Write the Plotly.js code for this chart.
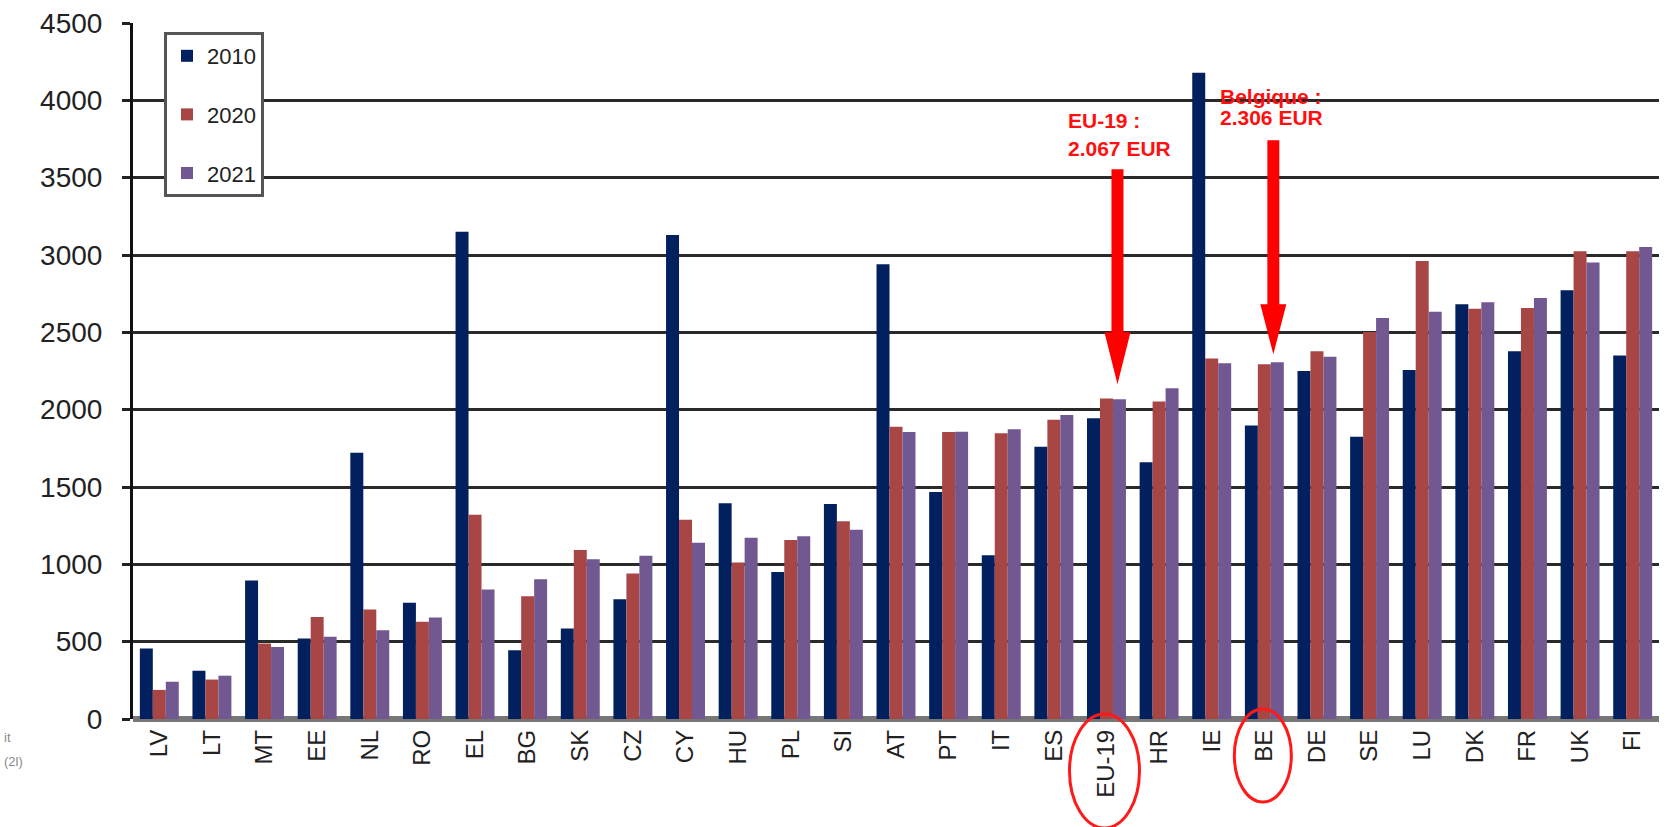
<!DOCTYPE html>
<html>
<head>
<meta charset="utf-8">
<script src="https://cdn.plot.ly/plotly-3.0.1.min.js"></script>
<style>
  html, body { margin: 0; padding: 0; background: #ffffff; }
  #chart { width: 1672px; height: 827px; }
</style>
</head>
<body>
<div id="chart"></div>
<script>
// ---- data ----
const categories = ['LV','LT','MT','EE','NL','RO','EL','BG','SK','CZ','CY','HU','PL','SI','AT','PT','IT','ES','EU-19','HR','IE','BE','DE','SE','LU','DK','FR','UK','FI'];
const values2010 = [456, 312, 895, 520, 1722, 752, 3150, 445, 585, 775, 3130, 1395, 950, 1390, 2940, 1468, 1058, 1760, 1945, 1660, 4178, 1897, 2250, 1825, 2256, 2681, 2378, 2772, 2350];
const values2020 = [188, 255, 488, 660, 708, 628, 1321, 794, 1093, 940, 1288, 1012, 1158, 1278, 1890, 1855, 1848, 1935, 2072, 2052, 2331, 2294, 2377, 2502, 2962, 2653, 2658, 3024, 3025];
const values2021 = [241, 280, 466, 531, 574, 656, 837, 903, 1033, 1056, 1140, 1172, 1181, 1224, 1855, 1858, 1874, 1965, 2067, 2138, 2300, 2306, 2342, 2592, 2633, 2694, 2722, 2952, 3052];
const seriesNames = ['2010', '2020', '2021'];
const yTickValues = [0, 500, 1000, 1500, 2000, 2500, 3000, 3500, 4000, 4500];
const highlightTexts = [['EU-19 :', '2.067 EUR'], ['Belgique :', '2.306 EUR']];

// ---- styling ----
const colors = ['#02205e', '#a84646', '#725891'];
const FONT = 'Liberation Sans, Arial, sans-serif';
const W = 1672, H = 827;
const M = {l: 133, r: 13, t: 23, b: 108};
const plotW = W - M.l - M.r, plotH = H - M.t - M.b;
const px2paperX = p => (p - M.l) / plotW;
const px2paperY = p => (H - M.b - p) / plotH;
const catPaper = c => (categories.indexOf(c) + 0.5) / categories.length;

const seriesValues = [values2010, values2020, values2021];
const traces = seriesValues.map((vals, i) => ({
  type: 'bar',
  name: seriesNames[i],
  x: categories,
  y: vals,
  marker: {color: colors[i], line: {width: 0}},
  legendgroup: 'g' + i,
  hoverinfo: 'x+y+name'
}));

const shapes = [];
const annotations = [];

// red arrows pointing down at the 2021 bar of the highlighted categories
const arrowSpecs = [
  {cat: 'EU-19', val: values2021[categories.indexOf('EU-19')], dx: 11, gap: 15, len: 215, head: 52},
  {cat: 'BE', val: values2021[categories.indexOf('BE')], dx: 9, gap: 8, len: 214, head: 50}
];
arrowSpecs.forEach(a => {
  const g = a.gap, t = a.gap + a.len, h = a.gap + a.head, x = a.dx;
  shapes.push({
    type: 'path', xref: 'x', yref: 'y', xsizemode: 'pixel', ysizemode: 'pixel',
    xanchor: a.cat, yanchor: a.val,
    path: `M${x-6},${t} L${x+6},${t} L${x+6},${h} L${x+13},${h} L${x},${g} L${x-13},${h} L${x-6},${h} Z`,
    fillcolor: '#ff0000', line: {width: 0}, layer: 'above'
  });
});

// red ellipses around the highlighted tick labels
const ellipseSpecs = [
  {cat: 'EU-19', x0: -37, x1: 33, y0: 5, y1: -109},
  {cat: 'BE', x0: -30, x1: 27, y0: 10, y1: -83}
];
ellipseSpecs.forEach(e => {
  shapes.push({
    type: 'circle', xref: 'paper', yref: 'paper', xsizemode: 'pixel', ysizemode: 'pixel',
    xanchor: catPaper(e.cat), yanchor: 0,
    x0: e.x0, x1: e.x1, y0: e.y0, y1: e.y1,
    line: {color: '#ff1a1a', width: 3}, fillcolor: 'rgba(0,0,0,0)', layer: 'above'
  });
});

// red text labels
const textSpecs = [
  {t: highlightTexts[0][0], x: 1066, y: 121},
  {t: highlightTexts[0][1], x: 1066, y: 148},
  {t: highlightTexts[1][0], x: 1218, y: 96},
  {t: highlightTexts[1][1], x: 1218, y: 118}
];
textSpecs.forEach(s => {
  annotations.push({
    xref: 'paper', yref: 'paper', x: px2paperX(s.x), y: px2paperY(s.y),
    xanchor: 'left', yanchor: 'middle', showarrow: false, text: s.t,
    font: {family: FONT, size: 21, color: '#ff1010', weight: 'bold'}
  });
});

// footnote fragments at the lower left
[['it', 737], ['(2l)', 761]].forEach(([t, y]) => {
  annotations.push({
    xref: 'paper', yref: 'paper', x: px2paperX(2), y: px2paperY(y),
    xanchor: 'left', yanchor: 'middle', showarrow: false, text: t,
    font: {family: FONT, size: 13, color: '#8a8a8a'}
  });
});

const layout = {
  width: W, height: H,
  margin: M,
  paper_bgcolor: '#ffffff', plot_bgcolor: '#ffffff',
  barmode: 'group', bargap: 0.26, bargroupgap: 0,
  showlegend: true,
  legend: {
    x: px2paperX(164), y: px2paperY(32), xanchor: 'left', yanchor: 'top',
    bgcolor: '#ffffff', bordercolor: '#555555', borderwidth: 3,
    font: {family: FONT, size: 22, color: '#222222'},
    tracegroupgap: 27, traceorder: 'grouped', itemwidth: 30
  },
  xaxis: {
    type: 'category', categoryorder: 'array', categoryarray: categories,
    tickangle: -90, tickfont: {family: FONT, size: 24, color: '#222222'},
    ticks: '', showgrid: false, showline: false, zeroline: false,
    ticklabelstandoff: 5, automargin: false
  },
  yaxis: {
    range: [0, 4500], tickvals: yTickValues, ticktext: yTickValues.map(String),
    tickfont: {family: FONT, size: 28, color: '#222222'},
    showline: true, linecolor: '#111111', linewidth: 3,
    ticks: 'outside', ticklen: 8, tickwidth: 3, tickcolor: '#222222',
    showgrid: true, gridcolor: '#2a2a2a', gridwidth: 3,
    zeroline: true, zerolinecolor: '#777777', zerolinewidth: 6,
    ticklabelstandoff: 14, automargin: false
  },
  shapes: shapes,
  annotations: annotations,
  font: {family: FONT}
};

Plotly.newPlot('chart', traces, layout, {displayModeBar: false, staticPlot: true});
</script>
</body>
</html>
